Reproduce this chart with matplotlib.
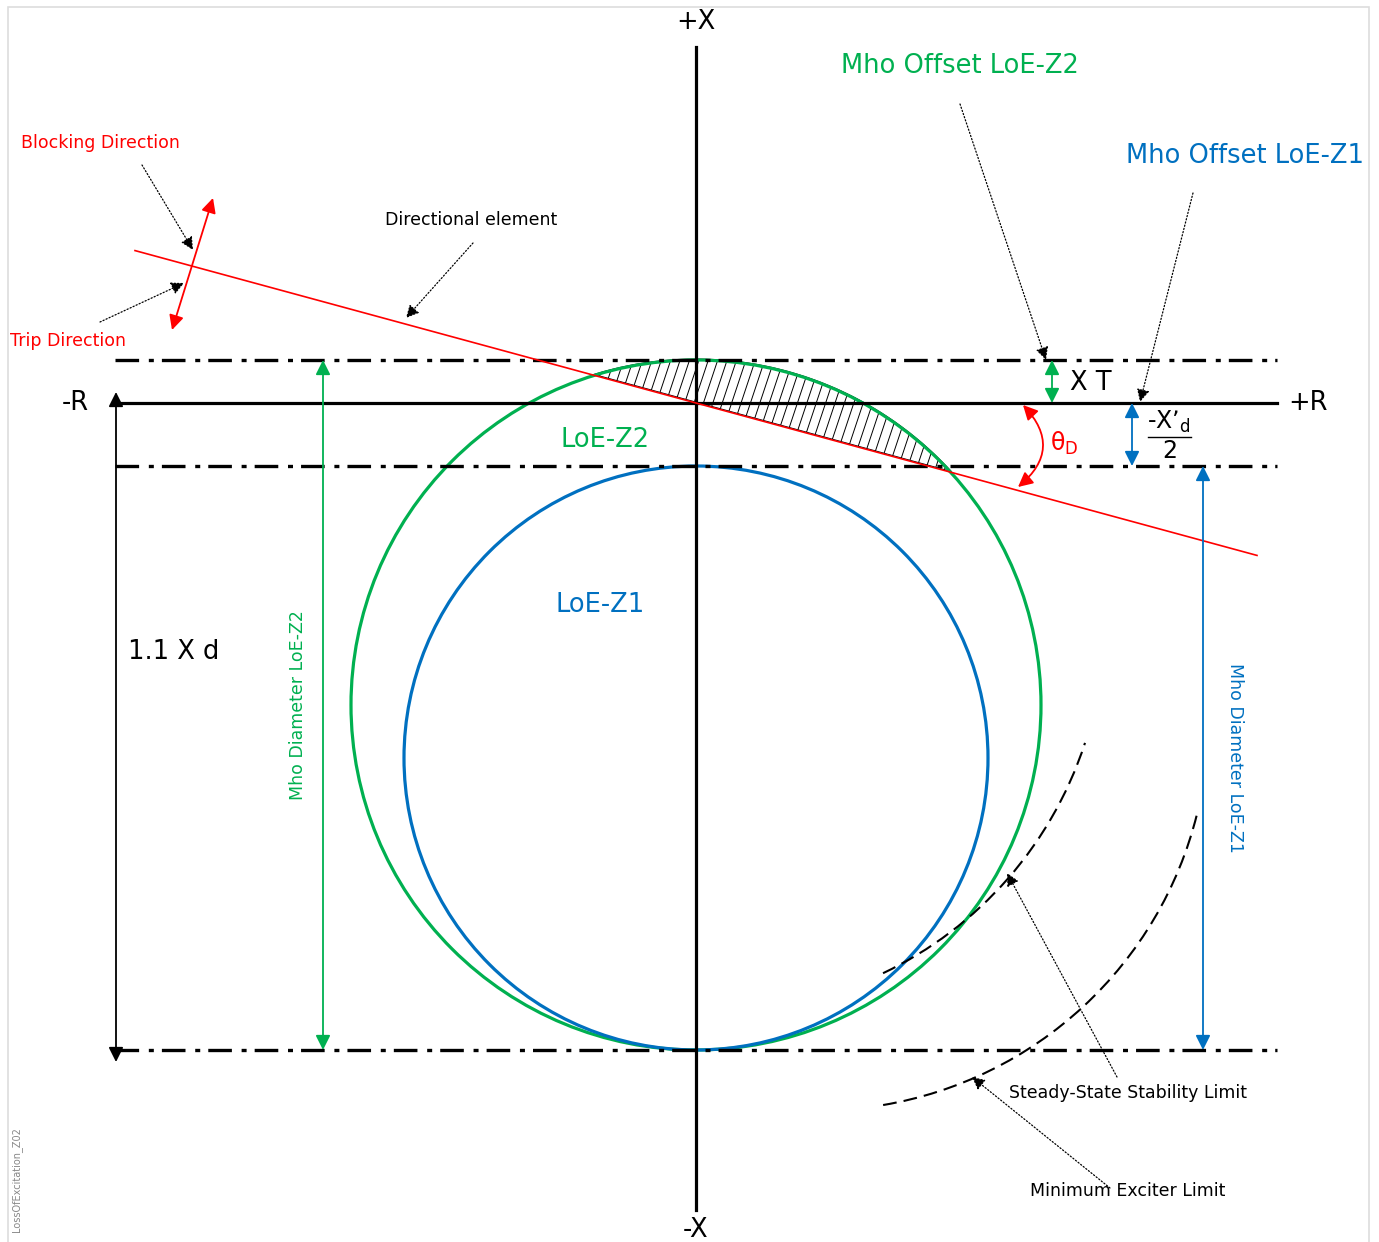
import numpy as np
import matplotlib.pyplot as plt
from matplotlib.patches import Circle, Polygon, Arc, Rectangle
from matplotlib.collections import LineCollection

# impedance plane, units = pixels of the original drawing, origin at the R/X cross
xt = 43             # Mho offset LoE-Z2 (above R axis)
xd_half = 63        # -X'd/2 -> Mho offset LoE-Z1 (below R axis)
xd_11 = 647         # 1.1 X d
theta_d = 15.2      # directional element angle (deg)
dir_ext = 561       # half length of the directional element line
r_axis = (-580, 581)
x_axis = (-807, 356)
limit_ext = (-581, 581)

sssl_center = (20, -220)
sssl_r = 388
sssl_span = (-64.5, -18.0)
mel_center = (122, -317)
mel_r = 390.5
mel_span = (-80.4, -14.0)

GREEN = "#00B050"
BLUE = "#0070C0"
RED = "#FF0000"

fig = plt.figure(figsize=(13.79, 12.42), dpi=100)
ax = fig.add_axes([0, 0, 1, 1])
ax.set_xlim(-696, 683)
ax.set_ylim(-839, 403)
ax.axis("off")

# frame
ax.add_patch(Rectangle((-688, -850), 1361, 1246, fill=False, ec="#dddddd", lw=1.2))


def dashdot(lw):
    pts = [17.0, 7.0, 3.6, 5.8]
    return (0, [p / lw for p in pts])


# axes
ax.plot(r_axis, [0, 0], color="black", lw=2.3, zorder=5)
ax.plot([0, 0], x_axis, color="black", lw=2.3, zorder=5)

# mho circles
z2_c = (0, (xt - xd_11) / 2)
z2_r = (xt + xd_11) / 2
z1_c = (0, (-xd_half - xd_11) / 2)
z1_r = (xd_11 - xd_half) / 2
ax.add_patch(Circle(z2_c, z2_r, fill=False, ec=GREEN, lw=2.3, zorder=3))
ax.add_patch(Circle(z1_c, z1_r, fill=False, ec=BLUE, lw=2.3, zorder=3))

# limit lines
for yy in (xt, -xd_half, -xd_11):
    ax.plot(limit_ext, [yy, yy], color="black", lw=2.4, ls=dashdot(2.4), zorder=4)

# directional element
k = np.tan(np.radians(theta_d))
ax.plot([-dir_ext, dir_ext], [k * dir_ext, -k * dir_ext], color=RED, lw=1.2, zorder=6)

# hatched region: inside Z2, above the directional line
a = 1 + k * k
b = 2 * k * z2_c[1]
c = z2_c[1] ** 2 - z2_r ** 2
disc = np.sqrt(b * b - 4 * a * c)
xs = sorted([(-b - disc) / (2 * a), (-b + disc) / (2 * a)])
ang = [np.arctan2(-k * x - z2_c[1], x) for x in xs]
t = np.linspace(ang[1], ang[0] if ang[0] > ang[1] else ang[0] + 2 * np.pi, 200)
arc_pts = np.column_stack([z2_c[0] + (z2_r + 1) * np.cos(t), z2_c[1] + (z2_r + 1) * np.sin(t)])
poly = Polygon(arc_pts, closed=True, fill=False, ec="black", lw=0.7, zorder=2)
ax.add_patch(poly)
offs = np.arange(xs[0] - 60, xs[1] + 40, 9.4)
segs = [[(o - 40, -120), (o + 60, 180)] for o in offs]
hatch = LineCollection(segs, colors="black", linewidths=0.7, zorder=2)
ax.add_collection(hatch)
hatch.set_clip_path(poly)

# stability / exciter limits
ax.add_patch(Arc(sssl_center, 2 * sssl_r, 2 * sssl_r, theta1=sssl_span[0], theta2=sssl_span[1],
                 ec="black", lw=1.5, ls=(0, (6.6, 3.4)), zorder=3))
ax.add_patch(Arc(mel_center, 2 * mel_r, 2 * mel_r, theta1=mel_span[0], theta2=mel_span[1],
                 ec="black", lw=1.5, ls=(0, (6.6, 3.4)), zorder=3))


def dim(p1, p2, color, style="<|-|>", rad=0.0, lw=1.3, ms=22):
    ax.annotate("", xy=p2, xytext=p1,
                arrowprops=dict(arrowstyle=style, color=color, lw=lw, mutation_scale=ms,
                                shrinkA=0, shrinkB=0, connectionstyle=f"arc3,rad={rad}"),
                zorder=7)


def leader(p1, p2):
    ax.annotate("", xy=p2, xytext=p1,
                arrowprops=dict(arrowstyle="-|>", color="black", lw=0.9, ls=":",
                                mutation_scale=19, shrinkA=0, shrinkB=0),
                zorder=7)


# dimension arrows
dim((-373, xt), (-373, -xd_11), GREEN)
dim((507, -xd_half), (507, -xd_11), BLUE)
dim((-580, 11), (-580, -659), "black")
dim((356, xt), (356, 0), GREEN)
dim((436, 0), (436, -xd_half), BLUE)
dim((327, -2), (322, -84), RED, rad=-0.53)
dim((-524, 73), (-483, 205), RED)

# leaders
leader((-554, 238), (-503, 153))
leader((-596, 81), (-512, 120))
leader((-223, 160), (-290, 85))
leader((264, 299), (350, 43))
leader((497, 210), (444, 1))
leader((421, -674), (311, -470))
leader((414, -785), (276, -674))

big = 18.5
small = 12.5
ax.text(0, 381, "+X", fontsize=big, ha="center", va="center")
ax.text(0, -827, "-X", fontsize=big, ha="center", va="center")
ax.text(-621, 0, "-R", fontsize=big, ha="center", va="center")
ax.text(592, 0, "+R", fontsize=big, ha="left", va="center")
ax.text(-568, -249, "1.1 X d", fontsize=big, ha="left", va="center")
ax.text(374, 20, "X T", fontsize=big, ha="left", va="center")
ax.text(-91, -37, "LoE-Z2", fontsize=big, ha="center", va="center", color=GREEN)
ax.text(-96, -202, "LoE-Z1", fontsize=big, ha="center", va="center", color=BLUE)
ax.text(264, 337, "Mho Offset LoE-Z2", fontsize=big, ha="center", va="center", color=GREEN)
ax.text(549, 247, "Mho Offset LoE-Z1", fontsize=big, ha="center", va="center", color=BLUE)
ax.text(354, -40, r"θ$_\mathregular{D}$", fontsize=17, ha="left", va="center", color=RED)
ax.text(473, -19, r"-X’$_\mathregular{d}$", fontsize=17, ha="center", va="center")
ax.plot([452, 495], [-34, -34], color="black", lw=1.0)
ax.text(474, -48, "2", fontsize=17, ha="center", va="center")

ax.text(-596, 260, "Blocking Direction", fontsize=small, ha="center", va="center", color=RED)
ax.text(-628, 62, "Trip Direction", fontsize=small, ha="center", va="center", color=RED)
ax.text(-225, 183, "Directional element", fontsize=small, ha="center", va="center")
ax.text(432, -690, "Steady-State Stability Limit", fontsize=small, ha="center", va="center")
ax.text(432, -788, "Minimum Exciter Limit", fontsize=small, ha="center", va="center")
ax.text(-398, -302, "Mho Diameter LoE-Z2", fontsize=small, ha="center", va="center",
        color=GREEN, rotation=90)
ax.text(539, -355, "Mho Diameter LoE-Z1", fontsize=small, ha="center", va="center",
        color=BLUE, rotation=270)
ax.text(-679, -777, "LossOfExcitation_Z02", fontsize=7, ha="center", va="center",
        color="#888888", rotation=90)

fig.savefig("out.png", dpi=100)
